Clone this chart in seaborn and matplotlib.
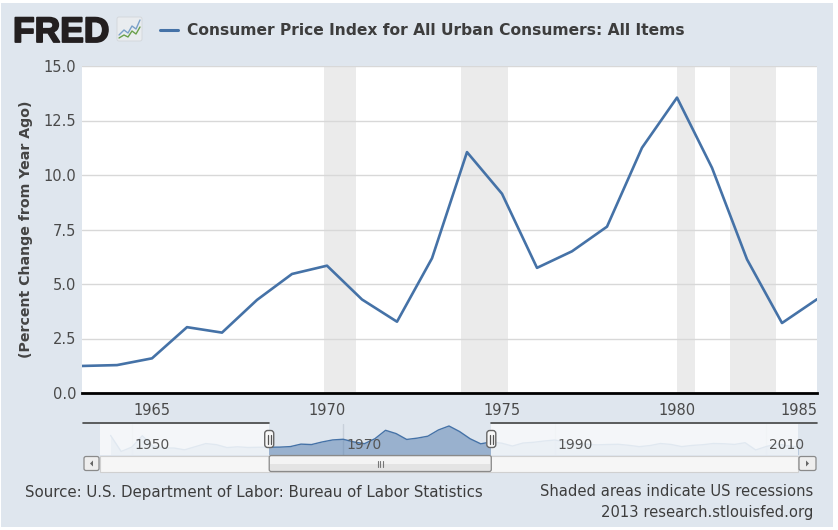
import numpy as np
import pandas as pd
import matplotlib
matplotlib.use("Agg")
import matplotlib.pyplot as plt
import matplotlib.patheffects as pe
import seaborn as sns
from matplotlib.patches import Rectangle, FancyBboxPatch, Polygon

# ---------------- data ----------------
years = list(range(1963, 1985))
cpi_change = [1.24, 1.28, 1.59, 3.02, 2.77, 4.27, 5.46, 5.84, 4.29, 3.27, 6.18,
              11.05, 9.14, 5.74, 6.50, 7.63, 11.25, 13.55, 10.33, 6.13, 3.21, 4.30]

recession_start = [1969.92, 1973.83, 1980.00, 1981.50]
recession_end = [1970.83, 1975.17, 1980.50, 1982.83]

y_ticks = [0.0, 2.5, 5.0, 7.5, 10.0, 12.5, 15.0]
x_ticks = [1965, 1970, 1975, 1980]
x_last_label = "1985"

nav_years = list(range(1948, 2014))
nav_values = ([8.07, -1.24, 1.26, 7.88, 1.92, 0.75, 0.75, -0.28, 1.52, 3.34, 2.73,
               1.01, 1.46, 1.07, 1.20]
              + cpi_change
              + [3.55, 1.90, 3.66, 4.08, 4.83, 5.40, 4.23, 3.03, 2.95, 2.61, 2.81,
                 2.93, 2.34, 1.55, 2.19, 3.38, 2.83, 1.59, 2.27, 2.68, 3.39, 3.23,
                 2.85, 3.84, -0.36, 1.64, 3.16, 2.07, 1.46])
nav_ticks = [1950, 1970, 1990, 2010]

title = "Consumer Price Index for All Urban Consumers: All Items"
y_label = "(Percent Change from Year Ago)"
source = "Source: U.S. Department of Labor: Bureau of Labor Statistics"
note1 = "Shaded areas indicate US recessions"
note2 = "2013 research.stlouisfed.org"

df = pd.DataFrame({"year": years, "value": cpi_change})
nav_df = pd.DataFrame({"year": nav_years, "value": nav_values})

# ---------------- style ----------------
sns.set_theme(style="white")
plt.rcParams["font.family"] = ["DejaVu Sans"]

W, H = 838, 530
BG = "#dfe6ee"
LINE = "#4572a7"

fig = plt.figure(figsize=(W / 100, H / 100), dpi=100)
fig.patch.set_facecolor("white")
fig.patches.append(Rectangle((1 / W, 1 - 527 / H), 832 / W, 524 / H,
                             transform=fig.transFigure, facecolor=BG,
                             edgecolor="none", zorder=-10))


def rect(l, t, r, b):
    return [l / W, 1 - b / H, (r - l) / W, (b - t) / H]


# ---------------- main chart ----------------
ax = fig.add_axes(rect(82, 66, 817, 393))
ax.set_facecolor("white")
for s, e in zip(recession_start, recession_end):
    ax.axvspan(s, e, color="#ebebeb", lw=0, zorder=0)
sns.lineplot(data=df, x="year", y="value", ax=ax, color=LINE, lw=1.9, zorder=3)
ax.set_xlim(years[0], years[-1])
ax.set_ylim(0, 15)
ax.set_yticks(y_ticks)
ax.set_yticklabels([f"{v:.1f}" for v in y_ticks])
ax.set_xticks(x_ticks)
ax.set_xticklabels([str(v) for v in x_ticks])
ax.grid(axis="y", color="#d8d8d8", lw=1)
ax.grid(axis="x", visible=False)
ax.set_axisbelow(True)
for side in ["top", "right", "left"]:
    ax.spines[side].set_visible(False)
ax.spines["bottom"].set_color("black")
ax.spines["bottom"].set_linewidth(2)
ax.tick_params(axis="y", length=0, pad=4, labelsize=10.5, labelcolor="#4a4a4a")
ax.tick_params(axis="x", length=4, width=1, color="#c0d0e0", pad=3,
               labelsize=10.5, labelcolor="#4a4a4a")
ax.set_xlabel("")
ax.set_ylabel(y_label, fontsize=10.2, fontweight="bold", color="#444444", labelpad=8)
ax.annotate(x_last_label, xy=(1, 0), xycoords="axes fraction", xytext=(0, -7),
            textcoords="offset points", ha="right", va="top", fontsize=10.5,
            color="#4a4a4a")

# ---------------- navigator ----------------
NAV_L, NAV_R, NAV_T, NAV_B = 100, 798, 423.5, 454.5
axn = fig.add_axes(rect(NAV_L, NAV_T, NAV_R, NAV_B))
axn.set_facecolor("none")
axn.set_xlim(1947, 2013)
axn.set_ylim(-3, 15)
sel0, sel1 = years[0], years[-1]
axn.fill_between(nav_df.year, nav_df.value, -3, color=LINE, alpha=0.45, lw=0, zorder=2)
sns.lineplot(data=nav_df, x="year", y="value", ax=axn, color=LINE, lw=1, zorder=3)
axn.axvspan(1947, sel0, color="#f7f9fb", alpha=0.88, lw=0, zorder=4)
axn.axvspan(sel1, 2013, color="#f7f9fb", alpha=0.88, lw=0, zorder=4)
axn.set_xticks(nav_ticks)
axn.set_xticklabels([])
axn.set_yticks([])
axn.grid(axis="x", color="#c8d0da", lw=1)
axn.set_axisbelow(True)
axn.tick_params(length=0)
axn.set_xlabel("")
axn.set_ylabel("")
for s in axn.spines.values():
    s.set_visible(False)
for t in nav_ticks:
    axn.text(t + 0.3, 0.32, str(t), transform=axn.get_xaxis_transform(),
             ha="left", va="center", fontsize=10, color="#555555", zorder=6)

# pixel positions of the selection
fig.canvas.draw()
def to_px(axis, x):
    disp = axis.transData.transform((x, 0))
    return disp[0]
px0 = to_px(axn, sel0)
px1 = to_px(axn, sel1)

# overlay in pixel coordinates
ov = fig.add_axes([0, 0, 1, 1])
ov.set_xlim(0, W)
ov.set_ylim(H, 0)
ov.axis("off")
ov.patch.set_alpha(0)

# navigator outline (top)
ov.plot([83, px0], [NAV_T - 0.5, NAV_T - 0.5], color="#444444", lw=1.2)
ov.plot([px1, 817], [NAV_T - 0.5, NAV_T - 0.5], color="#444444", lw=1.2)

# scrollbar
SB_T, SB_B = 455.5, 471.5
ov.add_patch(Rectangle((100, SB_T), NAV_R - 100, SB_B - SB_T, facecolor="#f6f6f6",
                       edgecolor="#d0d0d0", lw=0.8))
for bx0, bx1, direction in [(83, 100, -1), (NAV_R, 817, 1)]:
    ov.add_patch(FancyBboxPatch((bx0 + 1, SB_T + 1), bx1 - bx0 - 2, SB_B - SB_T - 2,
                                boxstyle="round,pad=0,rounding_size=2",
                                facecolor="#eeeeee", edgecolor="#8a8a8a", lw=0.9))
    cx, cy = (bx0 + bx1) / 2, (SB_T + SB_B) / 2
    ov.add_patch(Polygon([[cx - 1.5 * direction, cy - 3], [cx - 1.5 * direction, cy + 3],
                          [cx + 1.5 * direction, cy]], closed=True,
                         facecolor="#666666", edgecolor="none"))
ov.add_patch(FancyBboxPatch((px0, SB_T), px1 - px0, SB_B - SB_T,
                            boxstyle="round,pad=0,rounding_size=2",
                            facecolor="#e4e4e4", edgecolor="#8a8a8a", lw=0.9))
ov.add_patch(Rectangle((px0 + 1, SB_T + 1), px1 - px0 - 2, (SB_B - SB_T) / 2 - 1,
                       facecolor="#f4f4f4", edgecolor="none"))
gx = (px0 + px1) / 2
for dx in (-2.5, 0, 2.5):
    ov.plot([gx + dx, gx + dx], [SB_T + 5, SB_B - 5], color="#777777", lw=0.8)

# handles
for hx in (px0, px1):
    ov.add_patch(FancyBboxPatch((hx - 4.5, 430.5), 9, 17,
                                boxstyle="round,pad=0,rounding_size=3",
                                facecolor="#f7f7f7", edgecolor="#666666", lw=1.0,
                                zorder=10))
    for dx in (-1.3, 1.3):
        ov.plot([hx + dx, hx + dx], [434.5, 443.5], color="#555555", lw=0.9, zorder=11)

# ---------------- header ----------------
fred = fig.text(13 / W, 1 - 42 / H, "FRED", fontsize=25.5, fontweight="bold",
                family=["Liberation Sans", "DejaVu Sans"], color="#231f20",
                ha="left", va="baseline")
fred.set_path_effects([pe.withStroke(linewidth=1.3, foreground="#231f20")])
# small logo icon
ov.add_patch(FancyBboxPatch((117, 17), 25, 24, boxstyle="round,pad=0,rounding_size=2",
                            facecolor="#e9ecef", edgecolor="#d2d6da", lw=0.6))
ov.plot([119, 124, 128, 132, 136, 140], [35, 30, 33, 26, 29, 20], color="#7aa0c8", lw=1)
ov.plot([119, 124, 128, 132, 136, 140], [38, 35, 37, 31, 34, 27], color="#6aa04a", lw=1)
# legend marker
ov.plot([160, 178], [30, 30], color=LINE, lw=2.2)
fig.text(187 / W, 1 - 30.5 / H, title, fontsize=11.15, fontweight="bold",
         color="#3d3d3d", ha="left", va="center")

# ---------------- footer ----------------
fig.text(25 / W, 1 - 492 / H, source, fontsize=10.8, color="#3d3d3d",
         ha="left", va="center")
fig.text(813 / W, 1 - 492 / H, note1, fontsize=10.6, color="#3d3d3d",
         ha="right", va="center")
fig.text(813 / W, 1 - 512 / H, note2, fontsize=10.6, color="#3d3d3d",
         ha="right", va="center")

fig.savefig("out.png", dpi=100, facecolor=fig.get_facecolor())
